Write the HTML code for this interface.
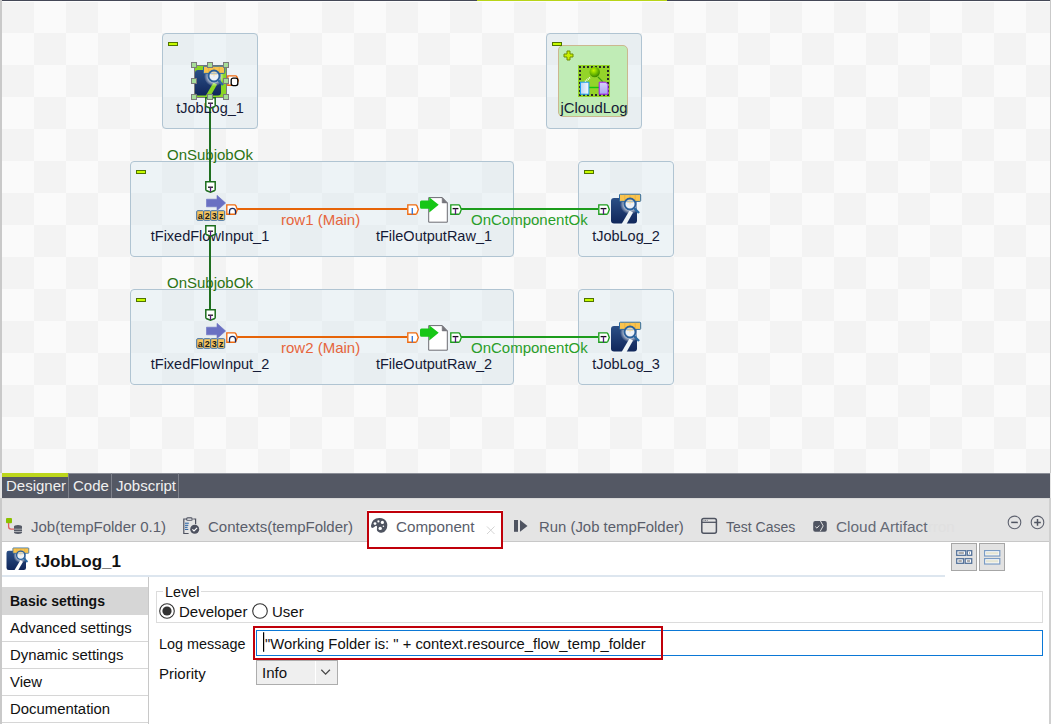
<!DOCTYPE html>
<html><head><meta charset="utf-8">
<style>
*{box-sizing:border-box;margin:0;padding:0}
html,body{width:1051px;height:724px;overflow:hidden;background:#e4e4e4;font-family:"Liberation Sans",sans-serif;position:relative}
.a{position:absolute}
#canvas{left:0;top:0;width:1051px;height:473px;background:conic-gradient(#fafafa 0 25%,#f3f3f3 0 50%,#fafafa 0 75%,#f3f3f3 0) 2px 1px/64px 64px;}
.box{position:absolute;border:1px solid #b0c4d2;border-radius:4px;background:rgba(207,230,240,0.3)}
.minus{position:absolute;width:10px;height:4px;background:#c6fa00;border:1px solid #507400}
.lbl{position:absolute;width:200px;text-align:center;font-size:14.5px;color:#151a36;white-space:nowrap;line-height:18px}
.lnk{position:absolute;font-size:15px;white-space:nowrap;line-height:18px}
.tab{position:absolute;font-size:15px;color:#5a5e6b;white-space:nowrap;line-height:18px}
svg{position:absolute;overflow:visible}
.hd{position:absolute;width:6px;height:6px;background:#a6dc98;border:1px solid #7c7c7c}
.side{position:absolute;left:2px;width:146px;height:27px;border-bottom:1px solid #d6d6d6;font-size:14.9px;color:#111;line-height:27px;padding-left:8px;white-space:nowrap}
.ft{position:absolute;font-size:15px;color:#111;white-space:nowrap;line-height:18px}
</style></head><body>

<svg width="0" height="0" style="position:absolute">
<defs>
 <linearGradient id="jlb" x1="0" y1="0" x2="0" y2="1"><stop offset="0" stop-color="#2b4f86"/><stop offset="1" stop-color="#10265a"/></linearGradient>
 <radialGradient id="jlg" cx="21" cy="11.5" r="10" gradientUnits="userSpaceOnUse"><stop offset="0.45" stop-color="#fff" stop-opacity="0.95"/><stop offset="0.72" stop-color="#fff" stop-opacity="0.45"/><stop offset="1" stop-color="#fff" stop-opacity="0"/></radialGradient>
 <radialGradient id="ball" cx="0.4" cy="0.35" r="0.65"><stop offset="0" stop-color="#c4f400"/><stop offset="0.55" stop-color="#74c000"/><stop offset="1" stop-color="#3c8800"/></radialGradient>
 <linearGradient id="brect" x1="0" y1="0" x2="1" y2="0"><stop offset="0" stop-color="#b8d4f4"/><stop offset="1" stop-color="#f4f9ff"/></linearGradient>
 <linearGradient id="prect" x1="0" y1="0" x2="0" y2="1"><stop offset="0" stop-color="#d8d0f8"/><stop offset="1" stop-color="#aaa4f0"/></linearGradient>
 <mask id="jlm" maskUnits="userSpaceOnUse" x="0" y="0" width="32" height="32"><rect width="32" height="32" fill="#fff"/><polygon points="12.6,31 17.6,31 24,19.5 20.5,17.5" fill="#000"/></mask>
 <radialGradient id="jlgm" cx="21" cy="11" r="11" gradientUnits="userSpaceOnUse"><stop offset="0.45" stop-color="#000"/><stop offset="1" stop-color="#000" stop-opacity="0"/></radialGradient>
 <symbol id="joblog" viewBox="0 0 32 32" overflow="visible">
  <rect x="2" y="5" width="26" height="25.6" rx="3" fill="url(#jlb)" mask="url(#jlm)"/>
  <circle cx="21" cy="11.5" r="10" fill="url(#jlg)"/>
  <rect x="10.5" y="1.2" width="21.2" height="7.2" rx="0.8" fill="#f9c34e" stroke="#2d6aa2" stroke-width="1"/>
  <path d="M15.8 1.7v6.4M21 1.7v6.4M26.2 1.7v6.4" stroke="#e4ac3a" stroke-width="0.7"/>
  <circle cx="21" cy="11" r="5.5" fill="#e8f0f8" fill-opacity="0.6" stroke="#2a5f9a" stroke-width="1.9"/>
  <path d="M17.5 9.5h7M21 7.5v4" stroke="#f0c870" stroke-width="0.8" opacity="0.6"/>
  <line x1="25" y1="15" x2="30" y2="20" stroke="#2d6aa2" stroke-width="2.4"/>
 </symbol>
 <symbol id="ffi" viewBox="0 0 32 32" overflow="visible">
  <path d="M13.5 6.2h10.5v-3.9l8.6 7.7-8.6 7.6v-3.8h-10.5z" fill="#6a70c2" stroke="#6a70c2" stroke-width="0.6" stroke-linejoin="round"/>
  <g fill="#f7c45c" stroke="#3c6ea4" stroke-width="1">
   <rect x="3.7" y="17.7" width="7" height="9.6" rx="1"/><rect x="10.7" y="17.7" width="7" height="9.6" rx="1"/><rect x="17.7" y="17.7" width="7" height="9.6" rx="1"/><rect x="24.7" y="17.7" width="7" height="9.6" rx="1"/>
  </g>
  <g font-family="Liberation Sans" font-size="9" font-weight="bold" fill="#1a1a1a" text-anchor="middle">
   <text x="7.2" y="25.6">a</text><text x="14.2" y="25.8">2</text><text x="21.2" y="25.8">3</text><text x="28.2" y="25.6">z</text>
  </g>
 </symbol>
 <symbol id="for" viewBox="0 0 32 32" overflow="visible">
  <path d="M11.7 4.6H25.2L30.3 9.9V29.2H11.7Z" fill="#fff" stroke="#6c6c72" stroke-width="1"/>
  <path d="M25.2 4.6L30.3 9.9H25.2Z" fill="#76767c" stroke="#76767c" stroke-width="0.6" stroke-linejoin="round"/>
  <path d="M4.5 7.4h7.7v-3.1l9.5 7.5-9.5 7.6v-3.7h-7.7q-1.5 0-1.5-1.5v-5.3q0-1.5 1.5-1.5z" fill="#16c616"/>
 </symbol>
 <symbol id="cloud" viewBox="0 0 32 32" overflow="visible">
  <rect x="0" y="0" width="32" height="32" fill="#94d42a"/>
  <g fill="#2a2a2a">
   <path d="M1 1h2v2H1zM5 1h2v2H5zM9 1h2v2H9zM13 1h2v2h-2zM17 1h2v2h-2zM21 1h2v2h-2zM25 1h2v2h-2zM29 1h2v2h-2z"/>
   <path d="M1 29h2v2H1zM5 29h2v2H5zM9 29h2v2H9zM13 29h2v2h-2zM17 29h2v2h-2zM21 29h2v2h-2zM25 29h2v2h-2zM29 29h2v2h-2z"/>
   <path d="M1 5h2v2H1zM1 9h2v2H1zM1 13h2v2H1zM1 17h2v2H1zM1 21h2v2H1zM1 25h2v2H1z"/>
   <path d="M29 5h2v2h-2zM29 9h2v2h-2zM29 13h2v2h-2zM29 17h2v2h-2zM29 21h2v2h-2zM29 25h2v2h-2z"/>
  </g>
  <line x1="7" y1="16.6" x2="12.5" y2="12.1" stroke="#fff" stroke-width="1.6" stroke-dasharray="1 0.8"/>
  <line x1="20" y1="12" x2="24.7" y2="16.6" stroke="#3a9a10" stroke-width="1.2"/>
  <circle cx="16.7" cy="7" r="5.2" fill="url(#ball)"/>
  <line x1="10.9" y1="22.5" x2="21" y2="22.5" stroke="#10c810" stroke-width="1.4"/>
  <rect x="2.5" y="17.2" width="8.4" height="12" fill="url(#brect)" stroke="#1a9cf4" stroke-width="1"/>
  <path d="M21.2 17.2h6.6l2.2 2.2v9.8h-8.8z" fill="url(#prect)" stroke="#a414f0" stroke-width="1"/>
 </symbol>
 <symbol id="cR" viewBox="0 0 12 11" overflow="visible">
  <path d="M0.8 0.8H8.6Q9.4 0.8 9.9 1.8L11.3 5.5L9.9 9.2Q9.4 10.2 8.6 10.2H0.8Z" fill="#fff" stroke="currentColor" stroke-width="1.35"/>
 </symbol>
 <symbol id="cD" viewBox="0 0 11 12" overflow="visible">
  <path d="M0.8 0.8H10.2V8.4Q10.2 9.2 9.2 9.8L5.5 11.3L1.8 9.8Q0.8 9.2 0.8 8.4Z" fill="#fff" stroke="currentColor" stroke-width="1.5"/>
 </symbol>
</defs></svg>
<div id="canvas" class="a"></div>
<!-- top line -->
<div class="a" style="left:0;top:0;width:1051px;height:1px;background:#444857"></div>
<div class="a" style="left:477px;top:0;width:190px;height:1px;background:#b8d418"></div>
<div class="a" style="left:0;top:1px;width:1051px;height:1px;background:#fdfdfd"></div>
<div class="a" style="left:0;top:0;width:2px;height:473px;background:#c9c9c9"></div>
<div class="a" style="left:1050px;top:0;width:1px;height:473px;background:#c9c9c9"></div>

<!-- tJobLog_1 box -->
<div class="box" style="left:162px;top:33px;width:96px;height:96px"></div>
<div class="minus" style="left:168px;top:42px"></div>
<!-- jCloudLog box -->
<div class="box" style="left:546px;top:33px;width:96px;height:96px"></div>
<div class="a" style="left:558px;top:45px;width:70px;height:72px;background:#c0ecb6;border:1px solid #cbb88f;border-radius:5px"></div>
<div class="minus" style="left:552px;top:42px"></div>

<!-- subjob boxes -->
<div class="box" style="left:130px;top:161px;width:384px;height:96px"></div>
<div class="minus" style="left:136px;top:170px"></div>
<div class="box" style="left:578px;top:161px;width:96px;height:96px"></div>
<div class="minus" style="left:584px;top:170px"></div>
<div class="box" style="left:130px;top:289px;width:384px;height:96px"></div>
<div class="minus" style="left:136px;top:298px"></div>
<div class="box" style="left:578px;top:289px;width:96px;height:96px"></div>
<div class="minus" style="left:584px;top:298px"></div>

<!-- links -->
<div class="a" style="left:209px;top:97px;width:2px;height:84px;background:#1f6f1f"></div>
<div class="a" style="left:209px;top:225px;width:2px;height:84px;background:#1f6f1f"></div>
<div class="a" style="left:237px;top:208px;width:170px;height:2px;background:#e66408"></div>
<div class="a" style="left:237px;top:336px;width:170px;height:2px;background:#e66408"></div>
<div class="a" style="left:461px;top:208px;width:137px;height:2px;background:#1c9c1c"></div>
<div class="a" style="left:461px;top:336px;width:137px;height:2px;background:#1c9c1c"></div>

<div class="lnk" style="left:167px;top:146px;color:#2c7314">OnSubjobOk</div>
<div class="lnk" style="left:167px;top:274px;color:#2c7314">OnSubjobOk</div>
<div class="lnk" style="left:281px;top:211px;color:#e6653c">row1 (Main)</div>
<div class="lnk" style="left:281px;top:339px;color:#e6653c">row2 (Main)</div>
<div class="lnk" style="left:471px;top:211px;color:#2a9e2a">OnComponentOk</div>
<div class="lnk" style="left:471px;top:339px;color:#2a9e2a">OnComponentOk</div>

<div class="lbl" style="left:110px;top:99px">tJobLog_1</div>
<div class="lbl" style="left:494px;top:99px;font-size:14.9px">jCloudLog</div>
<div class="lbl" style="left:110px;top:227px">tFixedFlowInput_1</div>
<div class="lbl" style="left:334px;top:227px">tFileOutputRaw_1</div>
<div class="lbl" style="left:526px;top:227px">tJobLog_2</div>
<div class="lbl" style="left:110px;top:355px">tFixedFlowInput_2</div>
<div class="lbl" style="left:334px;top:355px">tFileOutputRaw_2</div>
<div class="lbl" style="left:526px;top:355px">tJobLog_3</div>

<!-- icons canvas -->
<div class="a" style="left:194px;top:65px;width:33px;height:33px;background:#8ad624;border:1px solid #7a7a7a"></div>
<svg style="left:193px;top:65px" width="32" height="32"><use href="#joblog"/></svg>
<svg style="left:609px;top:193px" width="32" height="32"><use href="#joblog"/></svg>
<svg style="left:609px;top:321px" width="32" height="32"><use href="#joblog"/></svg>
<svg style="left:578px;top:65px" width="32" height="32"><use href="#cloud"/></svg>
<svg style="left:193px;top:193px" width="32" height="32"><use href="#ffi"/></svg>
<svg style="left:193px;top:321px" width="32" height="32"><use href="#ffi"/></svg>
<svg style="left:417px;top:193px" width="32" height="32"><use href="#for"/></svg>
<svg style="left:417px;top:321px" width="32" height="32"><use href="#for"/></svg>

<!-- connectors -->
<svg style="left:227px;top:75px;color:#ee6a10" width="12" height="11"><use href="#cR"/><rect x="4.2" y="3.2" width="6.6" height="7.4" rx="2" fill="#fff" stroke="#000" stroke-width="1.3"/></svg>
<svg style="left:205px;top:97px;color:#1c6e1c" width="11" height="12"><use href="#cD"/></svg>
<svg style="left:205px;top:181px;color:#1c6e1c" width="11" height="12"><use href="#cD"/></svg>
<svg style="left:205px;top:225px;color:#1c6e1c" width="11" height="12"><use href="#cD"/></svg>
<svg style="left:205px;top:309px;color:#1c6e1c" width="11" height="12"><use href="#cD"/></svg>
<svg style="left:226px;top:204px;color:#ee6a10" width="12" height="11"><use href="#cR"/></svg>
<svg style="left:226px;top:332px;color:#ee6a10" width="12" height="11"><use href="#cR"/></svg>
<svg style="left:407px;top:204px;color:#ee6a10" width="12" height="11"><use href="#cR"/></svg>
<svg style="left:407px;top:332px;color:#ee6a10" width="12" height="11"><use href="#cR"/></svg>
<svg style="left:450px;top:204px;color:#1c9c1c" width="12" height="11"><use href="#cR"/></svg>
<svg style="left:450px;top:332px;color:#1c9c1c" width="12" height="11"><use href="#cR"/></svg>
<svg style="left:598px;top:204px;color:#1c9c1c" width="12" height="11"><use href="#cR"/></svg>
<svg style="left:598px;top:332px;color:#1c9c1c" width="12" height="11"><use href="#cR"/></svg>
<!-- connector letters -->
<svg class="a" style="left:0;top:0" width="1051" height="473" viewBox="0 0 1051 473">
 <g stroke-width="1.3" fill="none">
  <g id="Td"><path d="M208 187.2h5" stroke="#111"/><path d="M210.5 187.2v4.8" stroke="#5a1a80"/></g>
  <use href="#Td" y="-84"/><use href="#Td" y="44"/><use href="#Td" y="128"/>
  <g id="Tr"><path d="M452.6 208.6h5.8" stroke="#111"/><path d="M455.5 208.6v5.9" stroke="#5a1a80"/></g>
  <use href="#Tr" y="128"/><use href="#Tr" x="148"/><use href="#Tr" x="148" y="128"/>
  <path id="Or" d="M229.5 214.5v-3.2q0-3 3-3t3 3v3.2" stroke="#1a2a60"/>
  <use href="#Or" y="128"/>
  <path id="Ir" d="M412.3 208v6.5" stroke="#3a7ad8" stroke-width="1.4"/>
  <use href="#Ir" y="128"/>
 </g>
</svg>

<!-- selection handles -->
<div class="hd" style="left:191px;top:62px"></div><div class="hd" style="left:207px;top:62px"></div><div class="hd" style="left:223px;top:62px"></div>
<div class="hd" style="left:191px;top:78px"></div><div class="hd" style="left:223px;top:78px"></div>
<div class="hd" style="left:191px;top:94px"></div><div class="hd" style="left:207px;top:94px"></div><div class="hd" style="left:223px;top:94px"></div>
<!-- plus -->
<svg style="left:563px;top:50px" width="12" height="12"><path d="M4 1h3v3h3v3h-3v3h-3v-3h-3v-3h3z" fill="#c8f000" stroke="#6e8c00" stroke-width="1"/></svg>
<!-- editor tab bar -->
<div class="a" style="left:2px;top:473px;width:1048px;height:25px;background:#545864"></div>
<div class="a" style="left:68px;top:473px;width:982px;height:1px;background:#8a8d96"></div>
<div class="a" style="left:2px;top:473px;width:66px;height:4px;background:#bcd61c"></div>
<div class="a" style="left:68px;top:473px;width:1px;height:25px;background:#7d808a"></div>
<div class="a" style="left:111px;top:473px;width:1px;height:25px;background:#7d808a"></div>
<div class="a" style="left:178px;top:473px;width:1px;height:25px;background:#7d808a"></div>
<div class="tab" style="left:6px;top:477px;color:#f0f0f0">Designer</div>
<div class="tab" style="left:73px;top:477px;color:#f0f0f0">Code</div>
<div class="tab" style="left:116px;top:477px;color:#f0f0f0">Jobscript</div>

<!-- bottom panel -->
<div class="a" style="left:2px;top:498px;width:1047px;height:1px;background:#d9d9d9"></div>
<div class="a" style="left:0;top:498px;width:2px;height:226px;background:#c9c9c9"></div>
<div class="a" style="left:1049px;top:498px;width:2px;height:226px;background:#d0d0d0"></div>
<div class="a" style="left:2px;top:541px;width:1047px;height:1px;background:#c8c8c8"></div>
<div class="a" style="left:2px;top:542px;width:1047px;height:182px;background:#fff"></div>

<div class="tab" style="left:31px;top:518px">Job(tempFolder 0.1)</div>
<div class="tab" style="left:208px;top:518px">Contexts(tempFolder)</div>
<div class="a" style="left:367px;top:510px;width:136px;height:32px;background:#fff"></div>
<div class="tab" style="left:396px;top:518px;font-size:15.2px">Component</div>
<div class="tab" style="left:539px;top:518px;font-size:14.9px">Run (Job tempFolder)</div>
<div class="tab" style="left:726px;top:518px;font-size:14px">Test Cases</div>
<div class="tab" style="left:836px;top:518px;font-size:15.4px;color:#656a76">Cloud Artifact</div>
<div class="tab" style="left:928px;top:518px;font-size:15px;color:#e0e0e0">rron</div>

<!-- tab icons -->
<svg style="left:0;top:498px" width="1051" height="44" viewBox="0 498 1051 44">
 <rect x="6" y="518" width="6" height="5.2" rx="1" fill="#8cc000"/>
 <path d="M8.6 523v3.6q0 2.6 2.6 2.6h3" fill="none" stroke="#e06060" stroke-width="1.3"/>
 <g fill="#555a66">
  <ellipse cx="18" cy="526.6" rx="4" ry="1.6"/>
  <rect x="14" y="526.6" width="8" height="2.2"/>
  <rect x="14" y="529.4" width="8" height="2"/>
  <path d="M14 532h8v0.6q0 1.4-4 1.4t-4-1.4z"/>
 </g>
 <!-- contexts -->
 <path d="M186.5 519h-2.7v14.5h4.8M193.2 519h2.4v5.2" fill="none" stroke="#4e5260" stroke-width="1.2"/>
 <rect x="186.6" y="517.9" width="5.6" height="2.4" rx="1" fill="#fff" stroke="#4e5260" stroke-width="1.1"/>
 <path d="M185 523.2h3.8M185 525.3h3.3M185 527.3h2.6M185 529.4h3.3" stroke="#1c5aa0" stroke-width="1"/>
 <circle cx="194.7" cy="529.3" r="4.5" fill="#4e5260"/>
 <path d="M192.4 529.3l1.6 1.6 3.1-3.1" fill="none" stroke="#fff" stroke-width="1.2"/>
 <!-- palette -->
 <path d="M379.2 518q-7.2 0.2-8.2 7.6q-0.3 2.2 1.3 2.3q1.3 0 2.6-1.4q1.2-1.3 2 -0.2q0.4 0.7 0 2.5q-0.5 2.5 2.6 3.6q4.4 1.4 6.6-2.6q2.4-4.5 0.2-8.3q-2-3.7-7.1-3.5z" fill="#4f5461"/>
 <circle cx="375" cy="523.6" r="1.4" fill="#fff"/><circle cx="378.4" cy="521.4" r="1.1" fill="#fff"/>
 <circle cx="382.4" cy="522.4" r="1.6" fill="#fff"/><circle cx="380.2" cy="528.4" r="1.7" fill="#fff"/>
 <circle cx="383.4" cy="526.3" r="0.8" fill="#fff"/>
 <!-- × -->
 <path d="M487 526.5l7.5 7.5M494.5 526.5l-7.5 7.5" stroke="#d4d4d4" stroke-width="1"/>
 <!-- run -->
 <rect x="514" y="520" width="4" height="11.8" fill="#4f5461"/>
 <path d="M520 520v11.8l7.5-5.9z" fill="#4f5461"/>
 <!-- test cases -->
 <rect x="701.8" y="518.6" width="14.6" height="14.6" rx="2" fill="none" stroke="#4f5461" stroke-width="1.5"/>
 <path d="M702 522.3h14.3" stroke="#4f5461" stroke-width="1.3"/>
 <path d="M703.6 520.4h0.8M705.2 520.4h0.8M706.8 520.4h0.8" stroke="#4f5461" stroke-width="0.9"/>
 <!-- cloud artifact -->
 <rect x="813.2" y="521" width="13.6" height="10.8" rx="2" fill="#4f5461"/>
 <path d="M820.2 520.5l3 5.4-3 5.4" fill="none" stroke="#e4e4e4" stroke-width="1"/>
 <path d="M815.3 526.6l1.6 1.5 2.4-2.6" fill="none" stroke="#e4e4e4" stroke-width="1"/>
 <!-- min/max -->
 <circle cx="1014.5" cy="522.4" r="6.3" fill="none" stroke="#5f6370" stroke-width="1.1"/>
 <path d="M1011.2 522.4h6.6" stroke="#4f5461" stroke-width="1.5"/>
 <circle cx="1037.5" cy="522.4" r="6.3" fill="none" stroke="#5f6370" stroke-width="1.1"/>
 <path d="M1034.2 522.4h6.6M1037.5 519.1v6.6" stroke="#4f5461" stroke-width="1.5"/>
</svg>
<div class="a" style="left:367px;top:511px;width:136px;height:38px;border:2px solid #c0000a"></div>

<!-- header -->
<div class="a" style="left:2px;top:575px;width:943px;height:2px;background:#dde6ef"></div>
<div class="a" style="left:35px;top:552px;font-size:17px;font-weight:bold;color:#111;line-height:20px">tJobLog_1</div>
<div class="a" style="left:951px;top:543px;width:26px;height:28px;background:#e2e2e2;border:1px solid #a6a6a6"></div>
<div class="a" style="left:979px;top:543px;width:26px;height:28px;background:#e2e2e2;border:1px solid #a6a6a6"></div>


<svg style="left:5px;top:547px" width="24" height="24" viewBox="0 0 32 32"><use href="#joblog" width="32" height="32"/></svg>
<svg style="left:951px;top:543px" width="54" height="28" viewBox="951 543 54 28">
 <g fill="#fff" stroke="#56739a" stroke-width="1.3">
  <rect x="956.7" y="550.7" width="9" height="4.6"/><rect x="967.3" y="550.7" width="4.4" height="4.6"/>
  <rect x="956.7" y="558.7" width="6.8" height="4.6"/><rect x="965.2" y="558.7" width="6.5" height="4.6"/>
 </g>
 <g fill="#8a8a8a"><rect x="958.5" y="552.3" width="5.4" height="1.4"/><rect x="969" y="552.3" width="1" height="1.4"/><rect x="958.4" y="560.3" width="3.4" height="1.4"/><rect x="966.9" y="560.3" width="3.1" height="1.4"/></g>
 <g fill="#fff" stroke="#7b9cc4" stroke-width="1.2">
  <rect x="984.6" y="550.6" width="15.2" height="5.4"/><rect x="984.6" y="558.6" width="15.2" height="5.4"/>
 </g>
 <g fill="#e6e6d4"><rect x="986" y="552.1" width="12.4" height="2.4"/><rect x="986" y="560.1" width="12.4" height="2.4"/></g>
</svg>
<!-- sidebar -->
<div class="a" style="left:148px;top:577px;width:1px;height:147px;background:#c8c8c8"></div>
<div class="side" style="top:587px;height:28px;line-height:28px;background:#d6d6d6;border-bottom:0;font-weight:bold;font-size:14px">Basic settings</div>
<div class="side" style="top:615px">Advanced settings</div>
<div class="side" style="top:642px">Dynamic settings</div>
<div class="side" style="top:669px">View</div>
<div class="side" style="top:696px">Documentation</div>

<!-- form -->
<div class="a" style="left:156px;top:591px;width:887px;height:32px;border:1px solid #dcdcdc"></div>
<div class="ft" style="left:163px;top:583px;background:#fff;padding:0 2px;font-size:14.4px">Level</div>
<div class="ft" style="left:179px;top:603px">Developer</div>
<div class="ft" style="left:272px;top:603px">User</div>
<div class="ft" style="left:159px;top:635px;font-size:14.4px">Log message</div>
<div class="ft" style="left:159px;top:665px">Priority</div>
<div class="a" style="left:256px;top:630px;width:787px;height:26px;border:1px solid #0b78d6"></div>
<div class="ft" style="left:265px;top:635px;font-size:14.8px">"Working Folder is: " + context.resource_flow_temp_folder</div>
<div class="a" style="left:253px;top:626px;width:410px;height:34px;border:2px solid #c0000a"></div>
<div class="a" style="left:256px;top:660px;width:82px;height:25px;background:#efefef;border:1px solid #adadad"></div>
<div class="ft" style="left:262px;top:664px">Info</div>

<svg style="left:150px;top:600px" width="200" height="90" viewBox="150 600 200 90">
 <circle cx="167" cy="611" r="7.3" fill="#fff" stroke="#333" stroke-width="1.1"/>
 <circle cx="167" cy="611" r="4.6" fill="#333"/>
 <circle cx="260" cy="611" r="7.3" fill="#fff" stroke="#333" stroke-width="1.1"/>
 <path d="M263.6 632.2v19.6" stroke="#000" stroke-width="1.2"/>
 <path d="M315.5 661v23" stroke="#fff" stroke-width="1"/>
 <path d="M321.3 669.8l4.3 4.3 4.3-4.3" fill="none" stroke="#4a4a4a" stroke-width="1.3"/>
</svg>
</body></html>
